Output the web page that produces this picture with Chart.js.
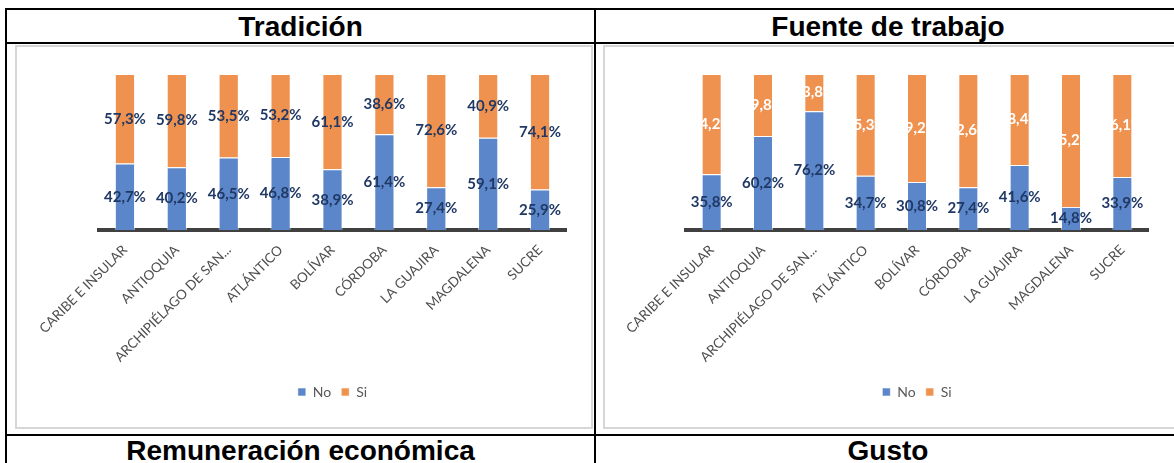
<!DOCTYPE html>
<html>
<head>
<meta charset="utf-8">
<script src="https://cdn.jsdelivr.net/npm/chart.js@4"></script>
<style>
  html, body { margin: 0; padding: 0; background: #fff; }
  body { width: 1174px; height: 463px; position: relative; overflow: hidden; }
  .line { position: absolute; background: #000; }
  .title { position: absolute; font-family: "Liberation Sans", Arial, sans-serif; font-weight: bold;
           font-size: 28px; line-height: 28px; text-align: center; color: #000; white-space: nowrap; }
  .box { position: absolute; box-sizing: border-box; border: 2px solid #d6d6d6; }
  canvas { position: absolute; }
</style>
</head>
<body>
<!-- table grid -->
<div class="line" style="left:5px; top:8px; width:1169px; height:2px"></div>
<div class="line" style="left:5px; top:42px; width:1169px; height:2px"></div>
<div class="line" style="left:5px; top:434px; width:1169px; height:2px"></div>
<div class="line" style="left:5px; top:8px; width:2px; height:455px"></div>
<div class="line" style="left:594px; top:8px; width:2px; height:455px"></div>

<div class="title" style="left:7px; width:587px; top:13px">Tradición</div>
<div class="title" style="left:596px; width:584px; top:13px">Fuente de trabajo</div>
<div class="title" style="left:7px; width:587px; top:437px">Remuneración económica</div>
<div class="title" style="left:596px; width:584px; top:437px">Gusto</div>

<div class="box" style="left:15px; top:45px; width:578px; height:384px"></div>
<div class="box" style="left:603px; top:45px; width:600px; height:384px"></div>

<canvas id="tradicion" width="578" height="383" style="left:15px; top:45px"></canvas>
<canvas id="trabajo" width="571" height="383" style="left:603px; top:45px"></canvas>

<script>
const categories = ['CARIBE E INSULAR', 'ANTIOQUIA', 'ARCHIPIÉLAGO DE SAN...', 'ATLÁNTICO', 'BOLÍVAR',
                    'CÓRDOBA', 'LA GUAJIRA', 'MAGDALENA', 'SUCRE'];
const seriesNames = ['No', 'Si'];

const tradicionNo = [42.7, 40.2, 46.5, 46.8, 38.9, 61.4, 27.4, 59.1, 25.9];
const tradicionSi = [57.3, 59.8, 53.5, 53.2, 61.1, 38.6, 72.6, 40.9, 74.1];

const trabajoNo = [35.8, 60.2, 76.2, 34.7, 30.8, 27.4, 41.6, 14.8, 33.9];
const trabajoSi = [64.2, 39.8, 23.8, 65.3, 69.2, 72.6, 58.4, 85.2, 66.1];

const blue = '#5b87ca';
const orange = '#f0924f';
const navy = '#203864';
const gray = '#595959';

function pct(v) {
    return v.toFixed(1).replace('.', ',') + '%';
}

// Excel-style labels centred in each segment
const segmentLabels = {
    id: 'segmentLabels',
    afterDatasetsDraw(chart, args, opts) {
        const ctx = chart.ctx;
        const area = chart.chartArea;
        chart.data.datasets.forEach((ds, i) => {
            const meta = chart.getDatasetMeta(i);
            meta.data.forEach((bar, j) => {
                ctx.save();
                if (opts.clip[i]) {
                    ctx.beginPath();
                    ctx.rect(bar.x - bar.width / 2, area.top, bar.width, area.height);
                    ctx.clip();
                }
                ctx.font = 'bold 15px Lato';
                ctx.fillStyle = opts.colors[i];
                ctx.textAlign = 'center';
                ctx.textBaseline = 'middle';
                ctx.fillText(pct(ds.data[j]), bar.x, (bar.y + bar.base) / 2);
                ctx.restore();
            });
        });
    }
};

const PAD_BOTTOM = 19;
const AREA_BOTTOM = 185;

function makeChart(id, no, si, padLeft, padRight, labelColors, clip) {
    return new Chart(document.getElementById(id), {
        type: 'bar',
        data: {
            labels: categories,
            datasets: [{
                label: seriesNames[0],
                data: no,
                backgroundColor: blue,
                borderColor: 'rgba(255,255,255,0.55)',
                borderWidth: 1
            }, {
                label: seriesNames[1],
                data: si,
                backgroundColor: orange,
                borderColor: 'rgba(255,255,255,0.55)',
                borderWidth: 1
            }]
        },
        options: {
            responsive: false,
            animation: false,
            barPercentage: 0.39,
            categoryPercentage: 1,
            layout: {
                padding: { left: padLeft, right: padRight, top: 29, bottom: PAD_BOTTOM }
            },
            scales: {
                x: {
                    stacked: true,
                    grid: { display: false },
                    border: { display: true, color: '#404040', width: 4 },
                    ticks: {
                        autoSkip: false,
                        minRotation: 45,
                        maxRotation: 45,
                        padding: 4,
                        color: '#4f4f4f',
                        font: { family: 'Lato', size: 13.5 }
                    },
                    afterFit(scale) {
                        const c = scale.chart;
                        scale.height = c.height - PAD_BOTTOM - c.legend.height - AREA_BOTTOM;
                    }
                },
                y: {
                    stacked: true,
                    display: false,
                    min: 0,
                    max: 100
                }
            },
            plugins: {
                legend: {
                    position: 'bottom',
                    labels: {
                        boxWidth: 8,
                        boxHeight: 8,
                        padding: 10,
                        color: gray,
                        font: { family: 'Lato', size: 14 }
                    }
                },
                tooltip: { enabled: false },
                segmentLabels: { colors: labelColors, clip: clip }
            }
        },
        plugins: [segmentLabels]
    });
}

makeChart('tradicion', tradicionNo, tradicionSi, 84, 27, [navy, navy], [false, false]);
makeChart('trabajo', trabajoNo, trabajoSi, 83, 26, [navy, '#ffffff'], [false, true]);
</script>
</body>
</html>
